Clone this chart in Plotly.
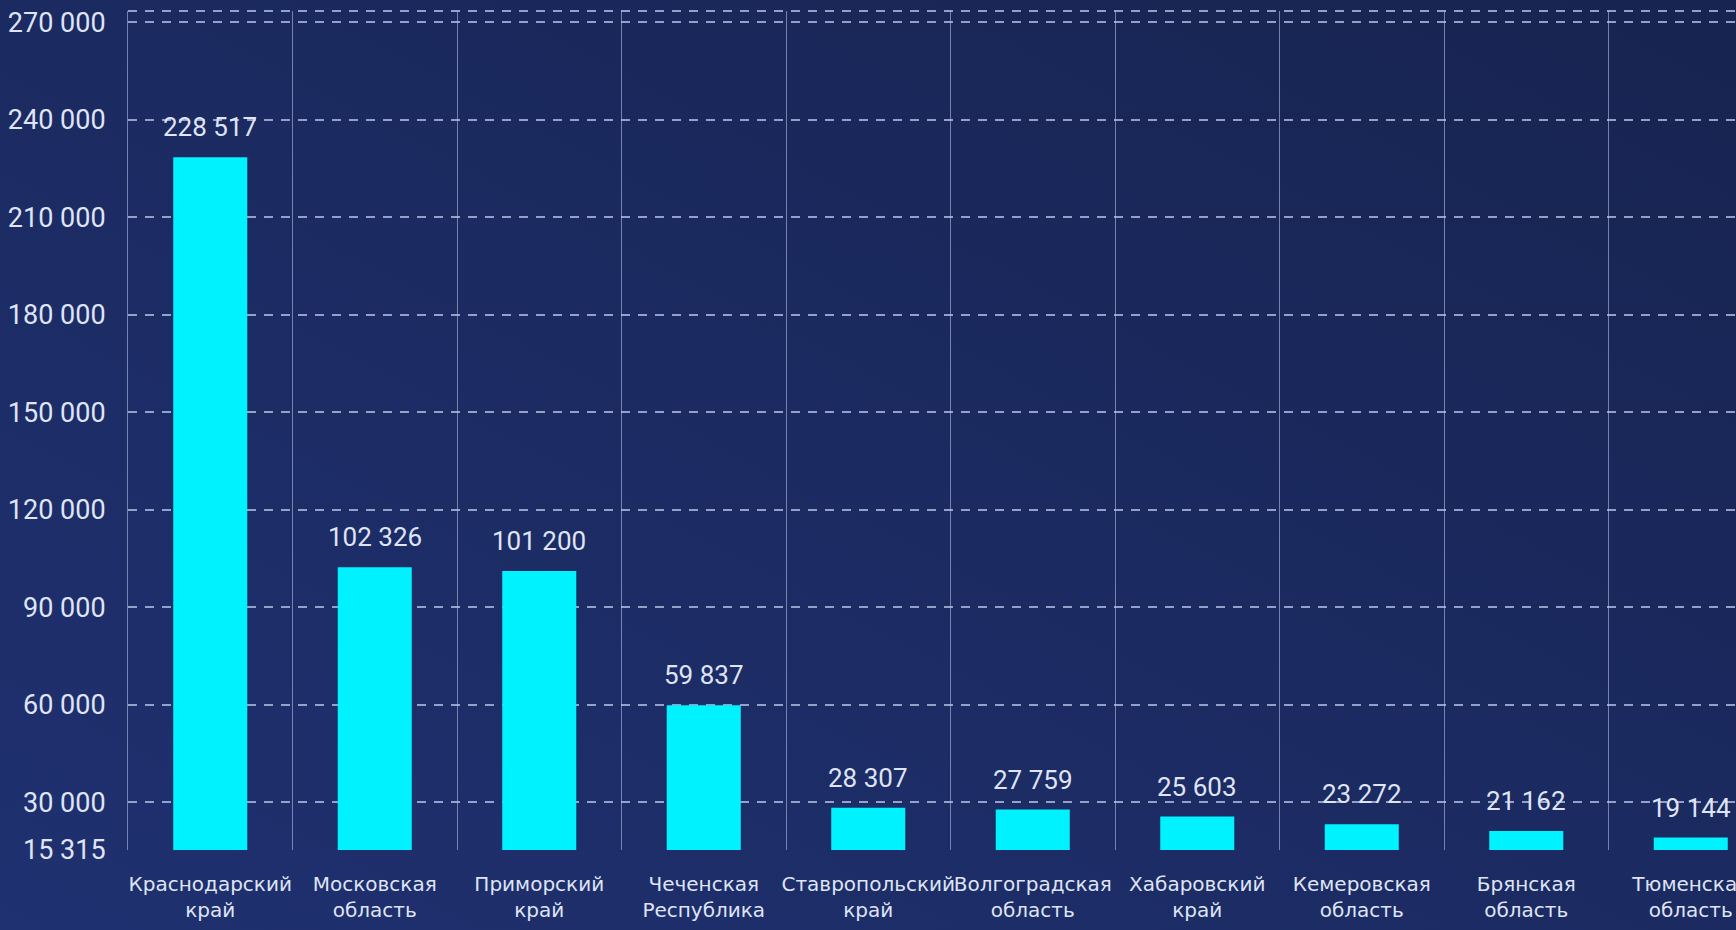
import base64
import plotly.graph_objects as go

regions = ["Краснодарский край", "Московская область", "Приморский край",
           "Чеченская Республика", "Ставропольский край", "Волгоградская область",
           "Хабаровский край", "Кемеровская область", "Брянская область",
           "Тюменская область"]
values = [228517, 102326, 101200, 59837, 28307, 27759, 25603, 23272, 21162, 19144]
y_ticks = [15315, 30000, 60000, 90000, 120000, 150000, 180000, 210000, 240000, 270000]

def fmt(v):
    return f"{v:,}".replace(",", " ")

labels = [r.replace(" ", "<br>", 1) for r in regions]

TXT = "#dfe4f6"
FONT = "Roboto"

svg = """<svg xmlns='http://www.w3.org/2000/svg' width='100' height='100' preserveAspectRatio='none'>
<defs><linearGradient id='g' x1='0' y1='1' x2='1' y2='0'>
<stop offset='0' stop-color='#203172'/><stop offset='0.5' stop-color='#1b2a60'/>
<stop offset='1' stop-color='#16234f'/></linearGradient></defs>
<rect width='100' height='100' fill='url(#g)'/></svg>"""
src = "data:image/svg+xml;base64," + base64.b64encode(svg.encode()).decode()

fig = go.Figure()
fig.add_trace(go.Bar(
    x=labels, y=[v - y_ticks[0] for v in values], base=y_ticks[0],
    marker=dict(color="#00f2ff", line=dict(width=0)),
    width=0.45, hoverinfo="skip",
))

for lab, v in zip(labels, values):
    fig.add_annotation(x=lab, y=v, text=fmt(v), showarrow=False,
                       yanchor="bottom", yshift=13,
                       font=dict(family=FONT, size=26, color=TXT))

fig.add_shape(type="line", xref="paper", yref="paper", x0=0, x1=1, y0=1, y1=1,
              line=dict(color="rgba(190,200,235,0.75)", width=2, dash="9px,8px"))

fig.add_layout_image(dict(source=src, xref="paper", yref="paper", x=-0.1, y=1.05,
                          sizex=1.2, sizey=1.2, sizing="stretch", layer="below"))

fig.update_layout(
    width=1736, height=930,
    margin=dict(l=128, r=0, t=11, b=80, autoexpand=False),
    paper_bgcolor="#1c2c66",
    plot_bgcolor="rgba(0,0,0,0)",
    showlegend=False,
    bargap=0.55,
)
fig.update_xaxes(
    type="category", range=[-0.5, 9.275], tickson="boundaries",
    showgrid=True, gridcolor="rgba(165,178,220,0.65)", gridwidth=1,
    ticks="", ticklabelstandoff=20, tickangle=0, automargin=False,
    tickfont=dict(family="DejaVu Sans", size=20, color=TXT),
    showline=False, zeroline=False,
)
fig.update_yaxes(
    range=[y_ticks[0], 273500], tickmode="array", tickvals=y_ticks,
    ticktext=[fmt(t) for t in y_ticks], automargin=False,
    showgrid=True, gridcolor="rgba(190,200,235,0.75)", gridwidth=2, griddash="9px,8px",
    showline=True, linecolor="rgba(165,178,220,0.65)", linewidth=1,
    ticks="", ticklabelstandoff=16,
    tickfont=dict(family=FONT, size=27, color=TXT),
    zeroline=False,
)

fig.write_html("out.html", config={"displayModeBar": False},
               post_script="document.body.style.margin='0';document.body.style.overflow='hidden';")
